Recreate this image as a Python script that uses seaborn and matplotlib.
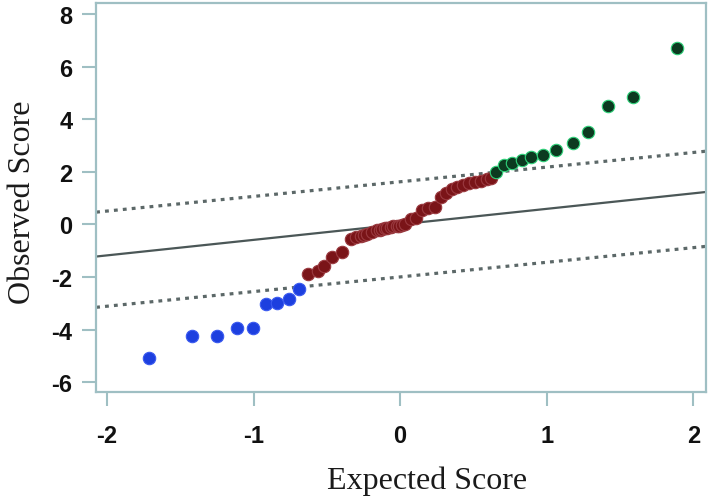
import numpy as np
import pandas as pd
import matplotlib
matplotlib.use("Agg")
import matplotlib.pyplot as plt
import seaborn as sns

# expected (x) / observed (y) scores
low_x = [-1.711, -1.420, -1.247, -1.115, -1.006, -0.917, -0.842, -0.762, -0.689]
low_y = [-5.07, -4.25, -4.25, -3.93, -3.93, -3.04, -3.00, -2.85, -2.45]

mid_x = [-0.630, -0.564, -0.519, -0.463, -0.399, -0.339, -0.299, -0.267, -0.245,
         -0.225, -0.193, -0.161, -0.140, -0.126, -0.105, -0.087, -0.065, -0.047,
         -0.025, -0.007, 0.012, 0.033, 0.073, 0.105, 0.152, 0.192, 0.237, 0.280,
         0.312, 0.352, 0.391, 0.431, 0.471, 0.511, 0.551, 0.591, 0.617]
mid_y = [-1.90, -1.77, -1.58, -1.26, -1.07, -0.57, -0.50, -0.45, -0.40,
         -0.35, -0.28, -0.22, -0.20, -0.19, -0.15, -0.12, -0.09, -0.07,
         -0.06, -0.05, -0.02, 0.01, 0.19, 0.26, 0.54, 0.61, 0.65, 1.05,
         1.18, 1.33, 1.43, 1.50, 1.56, 1.62, 1.66, 1.71, 1.75]

high_x = [0.657, 0.710, 0.763, 0.829, 0.896, 0.975, 1.060, 1.180, 1.280, 1.421, 1.586, 1.891]
high_y = [2.01, 2.26, 2.35, 2.43, 2.58, 2.64, 2.83, 3.11, 3.53, 4.51, 4.84, 6.71]

# reference lines: (intercept, slope)
fit_line = (0.0, 0.59)
upper_band = (1.62, 0.557)
lower_band = (-2.0, 0.557)

x_ticks = [-2, -1, 0, 1, 2]
y_ticks = [-6, -4, -2, 0, 2, 4, 6, 8]

df = pd.DataFrame({
    "expected": low_x + mid_x + high_x,
    "observed": low_y + mid_y + high_y,
    "group": ["low"] * len(low_x) + ["mid"] * len(mid_x) + ["high"] * len(high_x),
})

sns.set_style("white")
axis_col = "#9fbfc3"

fig = plt.figure(figsize=(7.12, 5.02), dpi=100)
ax = fig.add_axes([0.135, 0.217, 0.857, 0.775])

ax.axline((0, fit_line[0]), slope=fit_line[1], color="#4b5757", lw=1.6, zorder=1)
for b in (upper_band, lower_band):
    ax.axline((0, b[0]), slope=b[1], color="#5c6868", lw=2.3,
              linestyle=(0, (1.2, 1.6)), zorder=1)

palette = {"low": "#1d3fdf", "mid": "#7a1418", "high": "#0c3a20"}
edges = {"low": "#3a5af0", "mid": "#9a3a40", "high": "#2fd27a"}
for g in ["low", "mid", "high"]:
    sub = df[df["group"] == g]
    sns.scatterplot(data=sub, x="expected", y="observed", ax=ax, s=80,
                    color=palette[g], edgecolor=edges[g], linewidth=0.8,
                    zorder=3, legend=False)

ax.set_xlim(-2.075, 2.089)
ax.set_ylim(-6.38, 8.42)
ax.set_xticks(x_ticks)
ax.set_yticks(y_ticks)
ax.set_xticklabels([str(t) for t in x_ticks], fontfamily="Liberation Sans",
                   fontweight="bold", fontsize=17)
ax.set_yticklabels([str(t) for t in y_ticks], fontfamily="Liberation Sans",
                   fontweight="bold", fontsize=17)

for sp in ax.spines.values():
    sp.set_color(axis_col)
    sp.set_linewidth(1.6)
ax.tick_params(axis="both", bottom=True, left=True, color=axis_col, width=1.5,
               length=10, direction="out", labelcolor="#111111")
ax.tick_params(axis="x", pad=13)
ax.tick_params(axis="y", pad=7)

ax.set_xlabel("Expected Score", fontfamily="Liberation Serif", fontsize=23,
              color="#1a1a1a")
ax.set_ylabel("Observed Score", fontfamily="Liberation Serif", fontsize=23,
              color="#1a1a1a")
ax.xaxis.set_label_coords(0.543, -0.19)
ax.yaxis.set_label_coords(-0.097, 0.49)

fig.savefig("out.png", dpi=100)
